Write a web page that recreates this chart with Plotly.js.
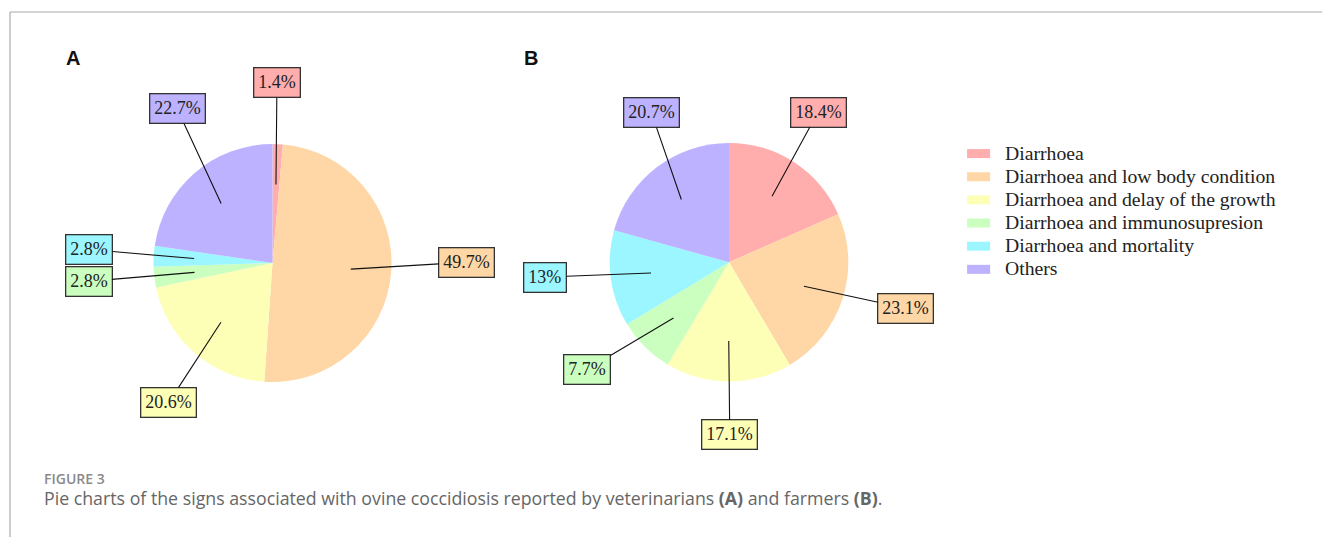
<!DOCTYPE html>
<html>
<head>
<meta charset="utf-8">
<script src="https://cdn.plot.ly/plotly-3.0.1.min.js"></script>
<style>
  html, body { margin: 0; padding: 0; background: #fff; }
  #chart { width: 1322px; height: 537px; }
  /* legend look of the reference: larger serif text, wide flat swatches */
  #chart .legendtext { font-size: 19.7px !important; }
  #chart path.legendpie { transform: translate(13.6px, 0px) scale(1.92, 0.75) !important; }
  #chart .legend .scrollbox, #chart .legend { clip-path: none !important; }
</style>
</head>
<body>
<div id="chart"></div>
<script>
// ---- data ----
const categories = [
  "Diarrhoea",
  "Diarrhoea and low body condition",
  "Diarrhoea and delay of the growth",
  "Diarrhoea and immunosupresion",
  "Diarrhoea and mortality",
  "Others"
];
const veterinarians = [1.4, 49.7, 20.6, 2.8, 2.8, 22.7];   // panel A
const farmers = [18.4, 23.1, 17.1, 7.7, 13, 20.7];          // panel B
const labelsA = ["1.4%", "49.7%", "20.6%", "2.8%", "2.8%", "22.7%"];
const labelsB = ["18.4%", "23.1%", "17.1%", "7.7%", "13%", "20.7%"];

// ---- style / layout ----
const colors = ["#FFADAD", "#FFD6A5", "#FDFFB6", "#CAFFBF", "#9BF6FF", "#BDB2FF"];
const W = 1322, H = 537;
const pieA = { cx: 272.5, cy: 263, r: 119 };
const pieB = { cx: 729, cy: 262.2, r: 119.3 };
// label box offsets (pixels) from the anchor point inside each slice
const offsetsA = [[1, -102], [116, -7], [-52, 80], [-106, 9], [-105, -9], [-44, -95]];
const offsetsB = [[46, -84], [102, 22], [1, 94], [-86, 51], [-106, 4], [-30, -87]];

function domainOf(p) {
  return {
    x: [(p.cx - p.r) / W, (p.cx + p.r) / W],
    y: [1 - (p.cy + p.r) / H, 1 - (p.cy - p.r) / H]
  };
}

function labelAnnotations(values, texts, p, offsets) {
  const total = values.reduce((a, b) => a + b, 0);
  let cum = 0;
  const out = [];
  values.forEach((v, i) => {
    const mid = (cum + v / 2) / total * 2 * Math.PI;
    cum += v;
    const px = p.cx + 0.66 * p.r * Math.sin(mid);
    const py = p.cy - 0.66 * p.r * Math.cos(mid);
    out.push({
      xref: "paper", yref: "paper",
      x: px / W, y: 1 - py / H,
      ax: offsets[i][0], ay: offsets[i][1],
      axref: "pixel", ayref: "pixel",
      text: texts[i],
      showarrow: true, arrowhead: 0, arrowwidth: 1.1, arrowcolor: "#111",
      standoff: 0, startstandoff: 0,
      bgcolor: colors[i], bordercolor: "#333", borderwidth: 1.3, borderpad: 4,
      font: { family: "Liberation Serif, Times New Roman, serif", size: 18, color: "#222" }
    });
  });
  return out;
}

const common = {
  type: "pie",
  labels: categories,
  sort: false,
  direction: "clockwise",
  rotation: 0,
  textinfo: "none",
  hoverinfo: "skip",
  marker: { colors: colors, line: { width: 0 } }
};

const traces = [
  Object.assign({}, common, { values: veterinarians, domain: domainOf(pieA), showlegend: true }),
  Object.assign({}, common, { values: farmers, domain: domainOf(pieB), showlegend: true })
];

const annotations = []
  .concat(labelAnnotations(veterinarians, labelsA, pieA, offsetsA))
  .concat(labelAnnotations(farmers, labelsB, pieB, offsetsB))
  .concat([
    { xref: "paper", yref: "paper", x: 73 / W, y: 1 - 58 / H, xanchor: "center", yanchor: "middle",
      text: "<b>A</b>", showarrow: false,
      font: { family: "Liberation Sans, Arial, sans-serif", size: 20, color: "#111" } },
    { xref: "paper", yref: "paper", x: 531 / W, y: 1 - 58 / H, xanchor: "center", yanchor: "middle",
      text: "<b>B</b>", showarrow: false,
      font: { family: "Liberation Sans, Arial, sans-serif", size: 20, color: "#111" } },
    { xref: "paper", yref: "paper", x: 42 / W, y: 1 - 478 / H, xanchor: "left", yanchor: "middle",
      text: "FIGURE 3", showarrow: false,
      font: { family: "Open Sans, sans-serif", size: 14, weight: 600, color: "#8a8a8a" } },
    { xref: "paper", yref: "paper", x: 42 / W, y: 1 - 498 / H, xanchor: "left", yanchor: "middle",
      text: "Pie charts of the signs associated with ovine coccidiosis reported by veterinarians <b>(A)</b> and farmers <b>(B)</b>.",
      showarrow: false,
      font: { family: "Open Sans, sans-serif", size: 17.75, color: "#666" } }
  ]);

const layout = {
  width: W, height: H,
  margin: { l: 0, r: 0, t: 0, b: 0 },
  paper_bgcolor: "#fff",
  showlegend: true,
  legend: {
    x: 965 / W, y: 1 - 137 / H, xanchor: "left", yanchor: "top",
    font: { family: "Liberation Serif, Times New Roman, serif", size: 15.5, color: "#222" },
    traceorder: "normal", tracegroupgap: 0, itemclick: false
  },
  annotations: annotations,
  shapes: [
    { type: "line", xref: "paper", yref: "paper", x0: 10 / W, x1: 1, y0: 1 - 12 / H, y1: 1 - 12 / H,
      line: { color: "#aaaaaa", width: 1.2 } },
    { type: "line", xref: "paper", yref: "paper", x0: 10 / W, x1: 10 / W, y0: 1 - 12 / H, y1: 0,
      line: { color: "#aaaaaa", width: 1.2 } }
  ]
};

Plotly.newPlot("chart", traces, layout, { staticPlot: true, displayModeBar: false });
</script>
</body>
</html>
